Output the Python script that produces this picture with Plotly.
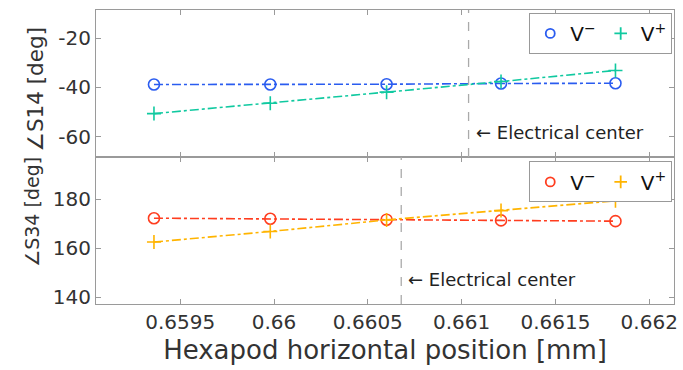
import plotly.graph_objects as go
from plotly.subplots import make_subplots

# ---- data ----
positions = [0.65936, 0.65998, 0.66060, 0.66121, 0.66182]
s14_vminus = [-38.8, -38.8, -38.7, -38.4, -38.3]
s14_vplus = [-50.6, -46.4, -41.9, -37.6, -33.1]
s34_vminus = [172.2, 172.0, 171.6, 171.3, 171.0]
s34_vplus = [162.5, 166.8, 171.5, 175.3, 179.3]
elec_center_top = 0.661037
elec_center_bottom = 0.660678
x_ticks = [0.6595, 0.66, 0.6605, 0.661, 0.6615, 0.662]
x_tick_labels = ["0.6595", "0.66", "0.6605", "0.661", "0.6615", "0.662"]
top_y_ticks = [-60, -40, -20]
top_y_labels = ["-60", "-40", "-20"]
bottom_y_ticks = [140, 160, 180]
bottom_y_labels = ["140", "160", "180"]

FONT = "DejaVu Sans"
TXT = "#333333"
AX = "#9a9a9a"

c_blue = "#2a5cf0"
c_green = "#10c9a0"
c_red = "#ff3d1f"
c_yellow = "#ffb400"

fig = make_subplots(rows=2, cols=1, shared_xaxes=True, vertical_spacing=0)

def add_series(x, y, color, symbol, size, row):
    fig.add_trace(go.Scatter(
        x=x, y=y, mode="lines+markers",
        line=dict(color=color, width=1.6, dash="dashdot"),
        marker=dict(symbol=symbol, size=size, color=color,
                    line=dict(color=color, width=1.6)),
        showlegend=False), row=row, col=1)

def add_legend_entry(name, color, symbol, legend):
    fig.add_trace(go.Scatter(
        x=[None], y=[None], mode="markers", name=name, legend=legend,
        marker=dict(symbol=symbol, size=9, color=color,
                    line=dict(color=color, width=1.8))))

add_series(positions, s14_vminus, c_blue, "circle-open", 11, 1)
add_series(positions, s14_vplus, c_green, "cross-thin-open", 10, 1)
add_series(positions, s34_vminus, c_red, "circle-open", 11, 2)
add_series(positions, s34_vplus, c_yellow, "cross-thin-open", 10, 2)

add_legend_entry("V<sup>−</sup>", c_blue, "circle-open", "legend")
add_legend_entry("V<sup>+</sup>", c_green, "cross-thin-open", "legend")
add_legend_entry("V<sup>−</sup>", c_red, "circle-open", "legend2")
add_legend_entry("V<sup>+</sup>", c_yellow, "cross-thin-open", "legend2")

axis_common = dict(showline=True, linecolor=AX, linewidth=1, mirror="allticks",
                   ticks="inside", ticklen=5, tickcolor=AX, showgrid=False,
                   zeroline=False, tickfont=dict(family=FONT, size=20, color=TXT))

fig.update_xaxes(**axis_common, range=[0.659051, 0.662132],
                 tickvals=x_ticks, ticktext=x_tick_labels)
fig.update_xaxes(title=dict(text="Hexapod horizontal position [mm]",
                            font=dict(family=FONT, size=26, color=TXT), standoff=7),
                 row=2, col=1)
fig.update_yaxes(**axis_common)
fig.update_yaxes(range=[-68.2, -8.6], tickvals=top_y_ticks, ticktext=top_y_labels,
                 row=1, col=1)
fig.update_yaxes(range=[137.3, 197.1], tickvals=bottom_y_ticks, ticktext=bottom_y_labels,
                 row=2, col=1)

fig.add_shape(type="line", x0=elec_center_top, x1=elec_center_top, xref="x",
              y0=0, y1=1, yref="y domain", line=dict(color="#aaaaaa", width=1.3, dash="dash"))
fig.add_shape(type="line", x0=elec_center_bottom, x1=elec_center_bottom, xref="x2",
              y0=0, y1=1, yref="y2 domain", line=dict(color="#aaaaaa", width=1.3, dash="dash"))

fig.add_annotation(x=elec_center_top, xref="x", xshift=5, y=0.08, yref="y domain",
                   text="← Electrical center", showarrow=False, xanchor="left",
                   font=dict(family=FONT, size=18, color="#222222"))
fig.add_annotation(x=elec_center_bottom, xref="x2", xshift=5, y=0.085, yref="y2 domain",
                   text="← Electrical center", showarrow=False, xanchor="left",
                   font=dict(family=FONT, size=18, color="#222222"))

fig.add_annotation(text="∠S14 [deg]", x=-0.105, xref="paper", y=0.731, yref="paper",
                   xanchor="center", yanchor="middle",
                   textangle=-90, showarrow=False,
                   font=dict(family=FONT, size=21.5, color=TXT))
fig.add_annotation(text="∠S34 [deg]", x=-0.11, xref="paper", y=0.315, yref="paper",
                   xanchor="center", yanchor="middle",
                   textangle=-90, showarrow=False,
                   font=dict(family=FONT, size=19, color=TXT))

legend_common = dict(orientation="h", bgcolor="white", bordercolor="#999999", borderwidth=1,
                     font=dict(family=FONT, size=20, color="#111111"),
                     xanchor="right", yanchor="top", x=0.997, itemwidth=30,
                     tracegroupgap=0)
fig.update_layout(
    legend=dict(**legend_common, y=0.99),
    legend2=dict(**legend_common, y=0.485),
    width=683, height=370,
    margin=dict(l=96, r=5, t=10, b=66),
    plot_bgcolor="white", paper_bgcolor="white",
)

fig.write_html("out.html")
